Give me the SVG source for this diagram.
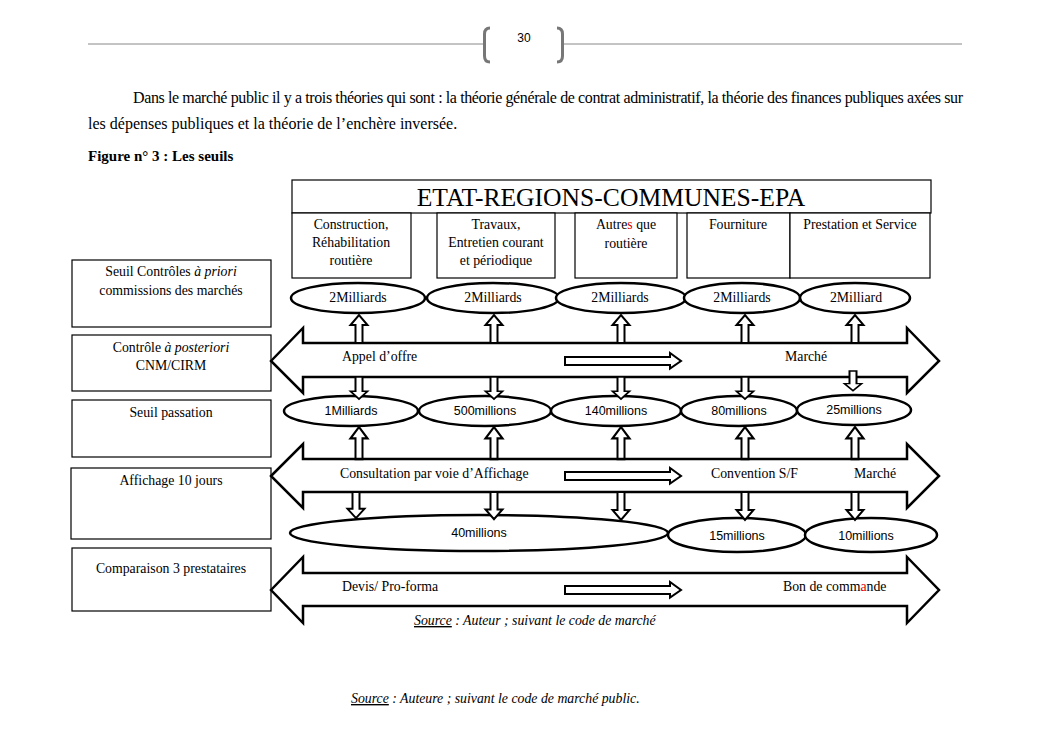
<svg xmlns="http://www.w3.org/2000/svg" width="1053" height="745" viewBox="0 0 1053 745">
<style>
.t{font-family:"Liberation Serif","Times New Roman",serif;font-size:13.8px;fill:#000}
.p{font-family:"Liberation Serif","Times New Roman",serif;font-size:16px;fill:#000}
.s{font-family:"Liberation Sans",Arial,sans-serif;font-size:12.5px;fill:#000}
.box{fill:#fff;stroke:#000;stroke-width:1.2}
.big{fill:#fff;stroke:#000;stroke-width:2.5;stroke-linejoin:miter}
.ell{fill:#fff;stroke:#000;stroke-width:2.5}
.sm{fill:#fff;stroke:#000;stroke-width:2}
.mid{text-anchor:middle}
.red{fill:#e00000}
</style>
<defs>
<path id="up" class="sm" d="M-3.5,0 V-18 H-8.5 L0,-28 L8.5,-18 H3.5 V0 Z"/>
</defs>
<rect width="1053" height="745" fill="#fff"/>

<g id="header">
<line x1="88" y1="44" x2="484" y2="44" stroke="#888" stroke-width="1"/>
<line x1="563" y1="44" x2="962" y2="44" stroke="#888" stroke-width="1"/>
<path d="M490,28 Q484.5,28 484.5,34 V56 Q484.5,62 490,62" fill="none" stroke="#777" stroke-width="3"/>
<path d="M557,28 Q562.5,28 562.5,34 V56 Q562.5,62 557,62" fill="none" stroke="#777" stroke-width="3"/>
<text x="524" y="42" class="s mid" style="font-size:12px">30</text>
<text x="133" y="103" class="p" textLength="830" lengthAdjust="spacing">Dans le marché public il y a trois théories qui sont : la théorie générale de contrat administratif, la théorie des finances publiques axées sur</text>
<text x="88" y="129" class="p">les dépenses publiques et la théorie de l’enchère inversée.</text>
<text x="88" y="161" class="p" font-weight="bold" style="font-size:15px">Figure n° 3 : Les seuils</text>
</g>

<g id="title">
<rect x="292" y="180" width="639" height="33" class="box"/>
<text x="611" y="206" class="t mid" style="font-size:25.6px">ETAT-REGIONS-COMMUNES-EPA</text>
</g>
<g id="cat1">
<rect x="292" y="213" width="119" height="65" class="box"/>
<text x="351" y="229" class="t mid">Construction,</text>
<text x="351" y="247" class="t mid">Réhabilitation</text>
<text x="351" y="265" class="t mid">routière</text>
</g>
<g id="cat2">
<rect x="437" y="213" width="118" height="65" class="box"/>
<text x="496" y="229" class="t mid">Travaux,</text>
<text x="496" y="247" class="t mid">Entretien courant</text>
<text x="496" y="265" class="t mid">et périodique</text>
</g>
<g id="cat3">
<rect x="575" y="213" width="102" height="65" class="box"/>
<text x="626" y="229" class="t mid">Autre<tspan class="red">s</tspan> que</text>
<text x="626" y="248" class="t mid">routière</text>
</g>
<g id="cat4">
<rect x="687" y="213" width="103" height="65" class="box"/>
<text x="738" y="229" class="t mid">Fourniture</text>
</g>
<g id="cat5">
<rect x="790" y="213" width="140" height="65" class="box"/>
<text x="860" y="229" class="t mid">Prestation et Service</text>
</g>

<g id="left1">
<rect x="72" y="260" width="199" height="67" class="box"/>
<text x="171" y="276" class="t mid">Seuil Contrôles <tspan font-style="italic">à priori</tspan></text>
<text x="171" y="295" class="t mid">commissions des marchés</text>
</g>
<g id="left2">
<rect x="72" y="335" width="199" height="56" class="box"/>
<text x="171" y="352" class="t mid">Contrôle <tspan font-style="italic">à posteriori</tspan></text>
<text x="171" y="370" class="t mid">CNM/CIRM</text>
</g>
<g id="left3">
<rect x="72" y="400" width="199" height="57" class="box"/>
<text x="171" y="417" class="t mid">Seuil passation</text>
</g>
<g id="left4">
<rect x="71" y="468" width="200" height="71" class="box"/>
<text x="171" y="485" class="t mid">Affichage 10 jours</text>
</g>
<g id="left5">
<rect x="72" y="548" width="199" height="63" class="box"/>
<text x="171" y="573" class="t mid">Comparaison 3 prestataires</text>
</g>

<g id="connectors">
<path class="big" d="M271,361 L303,328 V343 H907 V328 L939,361 L907,393 V377 H303 V393 Z"/>
<path class="big" d="M271,476 L303,444 V459 H907 V444 L939,476 L907,508 V492 H303 V508 Z"/>
<path class="big" d="M271,590 L303,557 V573 H907 V557 L939,590 L907,623 V606 H303 V623 Z"/>
<path class="sm" d="M565,357 H670 V353 L681,361 L670,368.5 V365 H565 Z"/>
<path class="sm" d="M565,472 H670 V468 L681,476 L670,483.5 V480 H565 Z"/>
<path class="sm" d="M565,586 H670 V582 L681,590 L670,597.5 V594 H565 Z"/>
</g>

<g id="row1">
<ellipse cx="358" cy="298" rx="67" ry="15" class="ell"/>
<ellipse cx="493" cy="298" rx="66" ry="15" class="ell"/>
<ellipse cx="621" cy="298" rx="65" ry="15" class="ell"/>
<ellipse cx="742" cy="298" rx="58" ry="15" class="ell"/>
<ellipse cx="855" cy="298" rx="55" ry="15" class="ell"/>
<text x="358" y="302" class="t mid">2Milliards</text>
<text x="493" y="302" class="t mid">2Milliards</text>
<text x="620" y="302" class="t mid">2Milliards</text>
<text x="742" y="302" class="t mid">2Milliards</text>
<text x="856" y="302" class="t mid">2Milliard</text>
</g>

<g id="row2">
<ellipse cx="351" cy="411" rx="67" ry="15" class="ell"/>
<ellipse cx="485" cy="411" rx="66" ry="15" class="ell"/>
<ellipse cx="616" cy="411" rx="65" ry="15" class="ell"/>
<ellipse cx="739" cy="411" rx="58" ry="15" class="ell"/>
<ellipse cx="854" cy="410" rx="57" ry="15" class="ell"/>
<text x="351" y="415" class="s mid">1Milliards</text>
<text x="485" y="415" class="s mid">500millions</text>
<text x="616" y="415" class="s mid">140millions</text>
<text x="739" y="415" class="s mid">80millions</text>
<text x="854" y="414" class="s mid">25millions</text>
</g>

<g id="row3">
<ellipse cx="479" cy="533" rx="189" ry="18" class="ell"/>
<ellipse cx="737" cy="535" rx="69" ry="17" class="ell"/>
<ellipse cx="871" cy="535" rx="66" ry="17" class="ell"/>
<text x="479" y="537" class="s mid">40millions</text>
<text x="737" y="540" class="s mid">15millions</text>
<text x="866" y="540" class="s mid">10millions</text>
</g>

<g id="small-arrows">
<use href="#up" x="359" y="343"/>
<use href="#up" x="494" y="343"/>
<use href="#up" x="621" y="343"/>
<use href="#up" x="745" y="343"/>
<use href="#up" x="855" y="343"/>
<use href="#up" transform="translate(359,377) scale(1,-0.79)"/>
<use href="#up" transform="translate(494,377) scale(1,-0.79)"/>
<use href="#up" transform="translate(621,377) scale(1,-0.79)"/>
<use href="#up" transform="translate(745,377) scale(1,-0.79)"/>
<use href="#up" transform="translate(853,371) scale(1,-0.7)"/>
<use href="#up" transform="translate(359,459) scale(1,1.14)"/>
<use href="#up" transform="translate(494,459) scale(1,1.14)"/>
<use href="#up" transform="translate(621,459) scale(1,1.14)"/>
<use href="#up" transform="translate(745,459) scale(1,1.14)"/>
<use href="#up" transform="translate(855,459) scale(1,1.14)"/>
<use href="#up" transform="translate(356,492) scale(1,-0.93)"/>
<use href="#up" transform="translate(494,492) scale(1,-0.97)"/>
<use href="#up" transform="translate(621,492) scale(1,-1)"/>
<use href="#up" transform="translate(745,492) scale(1,-1)"/>
<use href="#up" transform="translate(855,492) scale(1,-1)"/>
</g>

<g id="labels">
<text x="342" y="361" class="t">Appel d’offre</text>
<text x="785" y="361" class="t">Marché</text>
<text x="340" y="478" class="t">Consultation par voie d’Affichage</text>
<text x="711" y="478" class="t">Convention S/F</text>
<text x="854" y="478" class="t">Marché</text>
<text x="342" y="591" class="t">Devis/ Pro-forma</text>
<text x="783" y="591" class="t">Bon de comm<tspan class="red">a</tspan>nde</text>
</g>

<g id="sources">
<text x="414" y="625" class="t" font-style="italic"><tspan text-decoration="underline">Source</tspan> : Auteur ; suivant le code de marché</text>
<text x="351" y="703" class="t" font-style="italic"><tspan text-decoration="underline">Source</tspan> : Auteure ; suivant le code de marché public.</text>
</g>
</svg>
